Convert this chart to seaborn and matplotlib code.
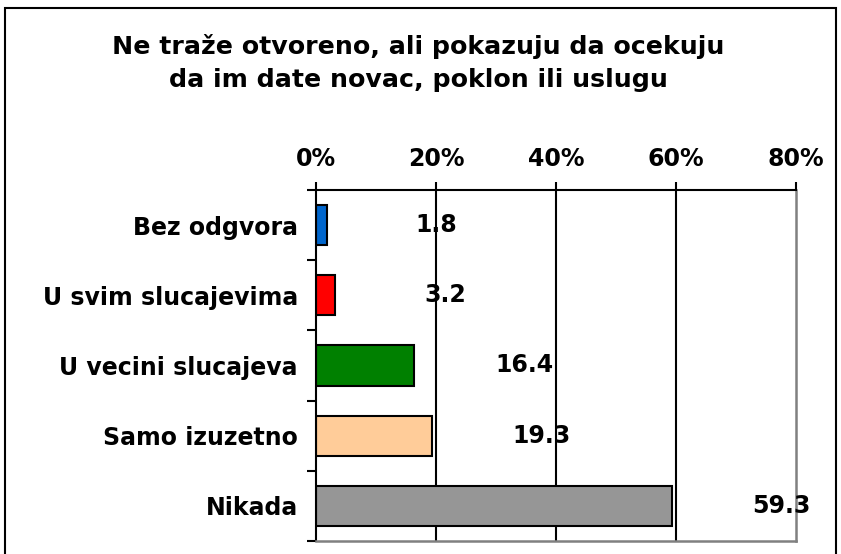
import matplotlib
matplotlib.use("Agg")
import matplotlib.pyplot as plt
import matplotlib.patches as mpatches
import seaborn as sns
import pandas as pd

categories = ["Bez odgvora", "U svim slucajevima", "U vecini slucajeva", "Samo izuzetno", "Nikada"]
values = [1.8, 3.2, 16.4, 19.3, 59.3]
bar_colors = ["#0066CC", "#FF0000", "#008000", "#FFCC99", "#969696"]
x_ticks = [0, 20, 40, 60, 80]
x_tick_labels = ["0%", "20%", "40%", "60%", "80%"]
title = "Ne traže otvoreno, ali pokazuju da ocekuju\nda im date novac, poklon ili uslugu"

sns.set_theme(style="white")
plt.rcParams["font.family"] = ["DejaVu Sans"]
plt.rcParams["text.color"] = "black"
plt.rcParams["xtick.color"] = "black"
plt.rcParams["ytick.color"] = "black"
plt.rcParams["xtick.labelcolor"] = "black"
plt.rcParams["ytick.labelcolor"] = "black"

W, H = 841, 554
fig = plt.figure(figsize=(W / 100, H / 100), dpi=100)
ax = fig.add_axes([316 / W, 1 - 541 / H, (796 - 316) / W, (541 - 190) / H])

df = pd.DataFrame({"cat": categories, "val": values})
sns.barplot(data=df, y="cat", x="val", hue="cat", palette=bar_colors, legend=False,
            orient="h", width=0.57, edgecolor="black", linewidth=1.5, ax=ax, saturation=1)

ax.set_xlim(0, 80)
ax.set_ylim(len(categories) - 0.5, -0.5)
ax.set_xlabel("")
ax.set_ylabel("")

# gridlines
for t in x_ticks[1:-1]:
    ax.axvline(t, color="black", lw=1.5, zorder=0)

ax.xaxis.tick_top()
ax.set_xticks(x_ticks)
ax.set_xticklabels(x_tick_labels, fontsize=17, fontweight="bold", color="black")
ax.tick_params(axis="x", which="major", direction="out", length=6, width=1.5, color="black", pad=8)

ax.set_yticks(range(len(categories)))
ax.set_yticklabels(categories, fontsize=17, fontweight="bold", color="black")
ax.tick_params(axis="y", which="major", length=0, pad=13)
ax.set_yticks([i - 0.5 for i in range(len(categories) + 1)], minor=True)
ax.tick_params(axis="y", which="minor", direction="out", length=6.5, width=1.5, color="black", left=True)

for side in ["top", "left"]:
    ax.spines[side].set_color("black")
    ax.spines[side].set_linewidth(1.5)
for side in ["right", "bottom"]:
    ax.spines[side].set_visible(True)
    ax.spines[side].set_color("#808080")
    ax.spines[side].set_linewidth(1.8)

for i, v in enumerate(values):
    ax.text(v + 18.3, i, f"{v:.1f}", ha="center", va="center", fontsize=17, fontweight="bold",
            color="black")

fig.text(418 / W, 1 - 63 / H, title, ha="center", va="center", fontsize=18.2, fontweight="bold",
         color="black", linespacing=1.45)

frame = mpatches.Rectangle((5 / W, -0.1), (836 - 5) / W, (1 - 8 / H) + 0.1, transform=fig.transFigure,
                           fill=False, edgecolor="black", linewidth=1.5, clip_on=False)
fig.patches.append(frame)

fig.savefig("out.png", dpi=100)
